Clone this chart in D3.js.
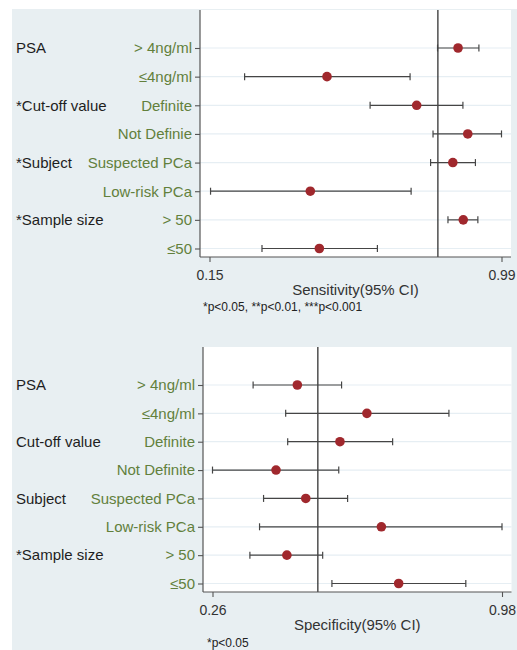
<!DOCTYPE html>
<html>
<head>
<meta charset="utf-8">
<script src="https://cdn.jsdelivr.net/npm/d3@7"></script>
<style>
  html, body { margin: 0; padding: 0; background: #ffffff; }
  svg { display: block; font-family: "Liberation Sans", Arial, sans-serif; }
</style>
</head>
<body>
<svg id="chart" width="517" height="650"></svg>
<script>
// Subgroup rows (top to bottom)
const sensCategories = ["> 4ng/ml", "≤4ng/ml", "Definite", "Not Definie", "Suspected PCa", "Low-risk PCa", "> 50", "≤50"];
const specCategories = ["> 4ng/ml", "≤4ng/ml", "Definite", "Not Definite", "Suspected PCa", "Low-risk PCa", "> 50", "≤50"];

// Group headings and the row they sit on
const sensGroups = ["PSA", "*Cut-off value", "*Subject", "*Sample size"];
const specGroups = ["PSA", "Cut-off value", "Subject", "*Sample size"];
const groupRows = [0, 2, 4, 6];

// Pooled sensitivity with 95% CI
const sensEst = [0.865, 0.488, 0.746, 0.893, 0.850, 0.440, 0.880, 0.466];
const sensLo  = [0.806, 0.251, 0.612, 0.793, 0.786, 0.153, 0.836, 0.301];
const sensHi  = [0.925, 0.727, 0.879, 0.990, 0.915, 0.730, 0.922, 0.633];
const sensOverall = 0.807;
const sensTicks = [0.15, 0.99];

// Pooled specificity with 95% CI
const specEst = [0.471, 0.644, 0.577, 0.418, 0.492, 0.680, 0.445, 0.723];
const specLo  = [0.361, 0.442, 0.447, 0.260, 0.387, 0.377, 0.353, 0.557];
const specHi  = [0.581, 0.848, 0.708, 0.574, 0.596, 0.980, 0.534, 0.890];
const specOverall = 0.522;
const specTicks = [0.26, 0.98];

const svg = d3.select("#chart");

// Light panel background
svg.append("rect")
  .attr("x", 12).attr("y", 9)
  .attr("width", 505).attr("height", 641)
  .attr("fill", "#e8eff2");

const COL = {
  axis: "#555555",
  text: "#333333",
  group: "#1e1e1e",
  cat: "#62803c",
  grid: "#e6eef3",
  ci: "#454545",
  dot: "#a0282d",
  ref: "#333333"
};

function forest(cfg) {
  const g = svg.append("g");
  const { left, right, top, bottom } = cfg;

  // Plot area
  g.append("rect")
    .attr("x", left).attr("y", top)
    .attr("width", right - left).attr("height", bottom - top)
    .attr("fill", "#ffffff");

  const x = d3.scaleLinear().domain(d3.extent(cfg.ticks)).range([left + 9.5, right - 9.5]);
  const y = d3.scalePoint().domain(cfg.categories).range([top + 38, bottom - 8.5]);

  // Row guide lines
  g.append("g").selectAll("line")
    .data(cfg.categories)
    .join("line")
    .attr("x1", left).attr("x2", right)
    .attr("y1", d => y(d)).attr("y2", d => y(d))
    .attr("stroke", COL.grid).attr("stroke-width", 1.2);

  // Overall estimate reference line
  g.append("line")
    .attr("x1", x(cfg.overall)).attr("x2", x(cfg.overall))
    .attr("y1", top).attr("y2", bottom)
    .attr("stroke", COL.ref).attr("stroke-width", 1.3);

  // Confidence intervals
  const rows = cfg.categories.map((c, i) => ({ c, est: cfg.est[i], lo: cfg.lo[i], hi: cfg.hi[i] }));
  const ci = g.append("g").selectAll("g").data(rows).join("g");
  ci.append("line")
    .attr("x1", d => x(d.lo)).attr("x2", d => x(d.hi))
    .attr("y1", d => y(d.c)).attr("y2", d => y(d.c))
    .attr("stroke", COL.ci).attr("stroke-width", 1.2);
  ci.append("line")
    .attr("x1", d => x(d.lo)).attr("x2", d => x(d.lo))
    .attr("y1", d => y(d.c) - 3.5).attr("y2", d => y(d.c) + 3.5)
    .attr("stroke", COL.ci).attr("stroke-width", 1.2);
  ci.append("line")
    .attr("x1", d => x(d.hi)).attr("x2", d => x(d.hi))
    .attr("y1", d => y(d.c) - 3.5).attr("y2", d => y(d.c) + 3.5)
    .attr("stroke", COL.ci).attr("stroke-width", 1.2);
  ci.append("circle")
    .attr("cx", d => x(d.est)).attr("cy", d => y(d.c))
    .attr("r", 4.8)
    .attr("fill", COL.dot);

  // Left axis with subgroup labels
  const ya = g.append("g")
    .attr("transform", `translate(${left},0)`)
    .call(d3.axisLeft(y).tickSize(5).tickPadding(3));
  ya.select(".domain").remove();
  ya.selectAll(".tick line").attr("stroke", COL.axis).attr("stroke-width", 1.1);
  ya.selectAll(".tick text")
    .attr("fill", COL.cat)
    .attr("font-size", 15)
    .attr("font-family", "Liberation Sans, Arial, sans-serif");
  g.append("line")
    .attr("x1", left).attr("x2", left)
    .attr("y1", top).attr("y2", bottom)
    .attr("stroke", COL.axis).attr("stroke-width", 1.2);

  // Bottom axis
  const xa = g.append("g")
    .attr("transform", `translate(0,${bottom})`)
    .call(d3.axisBottom(x).tickValues(cfg.ticks).tickFormat(d3.format(".2f")).tickSize(5).tickPadding(8));
  xa.select(".domain").remove();
  xa.selectAll(".tick line").attr("stroke", COL.axis).attr("stroke-width", 1.1);
  xa.selectAll(".tick text")
    .attr("fill", COL.text)
    .attr("font-size", 14)
    .attr("font-family", "Liberation Sans, Arial, sans-serif");
  g.append("line")
    .attr("x1", left).attr("x2", right)
    .attr("y1", bottom).attr("y2", bottom)
    .attr("stroke", COL.axis).attr("stroke-width", 1.2);

  // Group headings
  g.append("g").selectAll("text")
    .data(cfg.groups)
    .join("text")
    .attr("x", 16)
    .attr("y", (d, i) => y(cfg.categories[groupRows[i]]))
    .attr("dy", "0.35em")
    .attr("fill", COL.group)
    .attr("font-size", 15)
    .text(d => d);

  // Axis title
  g.append("text")
    .attr("x", (left + right) / 2)
    .attr("y", bottom + 38)
    .attr("text-anchor", "middle")
    .attr("fill", COL.text)
    .attr("font-size", 15)
    .text(cfg.title);

  // Significance note
  g.append("text")
    .attr("x", cfg.noteX)
    .attr("y", bottom + cfg.noteDy)
    .attr("fill", "#222222")
    .attr("font-size", 12)
    .text(cfg.note);
}

forest({
  left: 200, right: 511, top: 10, bottom: 257,
  categories: sensCategories, groups: sensGroups,
  est: sensEst, lo: sensLo, hi: sensHi, overall: sensOverall,
  ticks: sensTicks, title: "Sensitivity(95% CI)",
  note: "*p<0.05, **p<0.01, ***p<0.001", noteX: 203, noteDy: 54
});

forest({
  left: 203, right: 511.5, top: 347, bottom: 592,
  categories: specCategories, groups: specGroups,
  est: specEst, lo: specLo, hi: specHi, overall: specOverall,
  ticks: specTicks, title: "Specificity(95% CI)",
  note: "*p<0.05", noteX: 207, noteDy: 55
});
</script>
</body>
</html>
